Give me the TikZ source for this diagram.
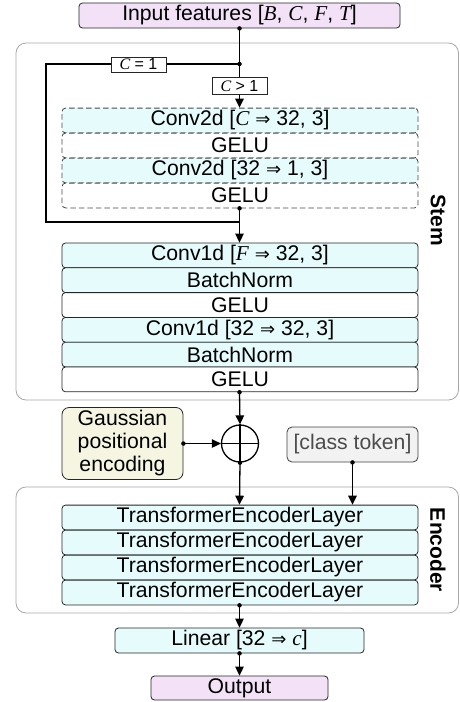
\documentclass[tikz,border=0pt]{standalone}
\usepackage{fontspec}
\setmainfont{Liberation Sans}
\newfontfamily\tms{Liberation Serif}
\newfontfamily\arw{DejaVu Sans}[Scale=0.85]
\usetikzlibrary{arrows.meta}
\newcommand{\mi}[1]{{\tms\itshape #1}}
\newcommand{\RA}{{\arw ⇒}}
\definecolor{cyanfill}{HTML}{E6FCFC}
\definecolor{pinkfill}{HTML}{F3E2F7}
\definecolor{yelfill}{HTML}{F5F5E1}
\definecolor{grayfill}{HTML}{F2F2F2}
\definecolor{grpline}{HTML}{A8A8A8}
\tikzset{
  txt/.style={font=\fontsize{21.2}{23}\selectfont},
  layer/.style={txt, draw=black!85, rounded corners=3.5pt, minimum width=356pt,
    minimum height=24.8pt, inner sep=0pt, line width=0.8pt},
  cy/.style={layer, fill=cyanfill},
  wh/.style={layer, fill=white},
  dsh/.style={draw=black!72, dash pattern=on 5.5pt off 3pt},
  grp/.style={draw=grpline, line width=0.8pt, rounded corners=10pt},
  conn/.style={line width=1.3pt, -{Triangle[length=9pt,width=8.5pt]}},
  plain/.style={line width=1.3pt},
  cond/.style={draw=black!85, fill=white, line width=0.8pt, inner sep=0pt,
    minimum width=55pt, font=\fontsize{16}{18}\selectfont},
  grplabel/.style={rotate=-90, font=\fontsize{21}{23}\selectfont\bfseries},
  dot/.style={circle, fill=black, inner sep=0pt, minimum size=4.5pt}
}
\begin{document}
\begin{tikzpicture}[x=1pt,y=-1pt]
\useasboundingbox (0,0) rectangle (459,702);
% groups
\draw[grp] (16,43) rectangle (458.5,400);
\draw[grp] (16,487) rectangle (458.5,613);
\node[grplabel] (stemlbl) at (438,220) {Stem};
\node[grplabel] (enclbl) at (438,550) {Encoder};
% input
\node[layer, fill=pinkfill, minimum width=321pt, minimum height=25pt] (inp) at (239.5,15.5)
  {Input features [\mi{B}, \mi{C}, \mi{F}, \mi{T}]};
% dashed 2d block
\node[cy, dsh] (d1) at (240,120.5) {Conv2d [\mi{C} \RA{} 32, 3]};
\node[wh, dsh] (d2) at (240,145.5) {GELU};
\node[cy, dsh] (d3) at (240,170.5) {Conv2d [32 \RA{} 1, 3]};
\node[wh, dsh] (d4) at (240,195.5) {GELU};
% 1d block
\node[cy] (s1) at (240,255.4) {Conv1d [\mi{F} \RA{} 32, 3]};
\node[cy] (s2) at (240,280.2) {BatchNorm};
\node[wh] (s3) at (240,305.0) {GELU};
\node[cy] (s4) at (240,329.8) {Conv1d [32 \RA{} 32, 3]};
\node[cy] (s5) at (240,354.6) {BatchNorm};
\node[wh] (s6) at (240,379.4) {GELU};
% sum, positional encoding, class token
\node[circle, draw, line width=1.3pt, minimum size=37pt, inner sep=0pt] (sum) at (240,443.5) {};
\draw[line width=1.1pt] (sum.north) -- (sum.south) (sum.west) -- (sum.east);
\node[txt, draw=black!85, fill=yelfill, rounded corners=7pt, line width=0.8pt,
  minimum width=121pt, minimum height=72pt, inner sep=0pt, align=center] (gpe) at (122.5,443.5)
  {Gaussian\\positional\\encoding};
\node[txt, draw=black!75, fill=grayfill, text=black!70, rounded corners=5pt, line width=0.8pt,
  minimum width=131pt, minimum height=35pt, inner sep=0pt] (cls) at (352.5,444.5) {[class token]};
% encoder
\node[cy] (t1) at (240,517.5) {TransformerEncoderLayer};
\node[cy] (t2) at (240,542.5) {TransformerEncoderLayer};
\node[cy] (t3) at (240,567.5) {TransformerEncoderLayer};
\node[cy] (t4) at (240,592.5) {TransformerEncoderLayer};
% head
\node[cy, minimum width=249pt, minimum height=25pt] (lin) at (239.5,640.5) {Linear [32 \RA{} \mi{c}]};
\node[layer, fill=pinkfill, minimum width=177pt, minimum height=24pt] (out) at (239.5,688) {Output};
% connectors
\coordinate (j) at (239.5,64);
\coordinate (k) at (239.5,222);
\coordinate (lt) at (46,64);
\coordinate (lb) at (46,222);
\draw[plain] (inp.south -| j) -- (j);
\draw[plain] (j) -- (lt) -- (lb) -- (k);
\draw[conn] (j) -- (d1.north -| j);
\node[cond, minimum height=15pt] (c1) at (138.5,64.5) {\mi{C} = 1};
\node[cond, minimum height=17pt] (c2) at (239.5,86) {\mi{C} > 1};
\draw[conn] (d4.south -| j) -- (s1.north -| j);
\draw[conn] (s6.south -| j) -- (sum.north);
\draw[conn] (gpe.east) -- (sum.west);
\draw[conn] (sum.south) -- (t1.north -| j);
\draw[conn] (cls.south) -- (t1.north -| cls.south);
\draw[conn] (t4.south -| j) -- (lin.north -| j);
\draw[conn] (lin.south -| j) -- (out.north -| j);
% dots
\node[dot] (p1) at (inp.south -| j) {};
\node[dot] (p2) at (j) {};
\node[dot] (p3) at (d4.south -| j) {};
\node[dot] (p4) at (s6.south -| j) {};
\node[dot] (p5) at (gpe.east) {};
\node[dot] (p6) at (sum.south) {};
\node[dot] (p7) at (cls.south) {};
\node[dot] (p8) at (t4.south -| j) {};
\node[dot] (p9) at (lin.south -| j) {};
\end{tikzpicture}
\end{document}
